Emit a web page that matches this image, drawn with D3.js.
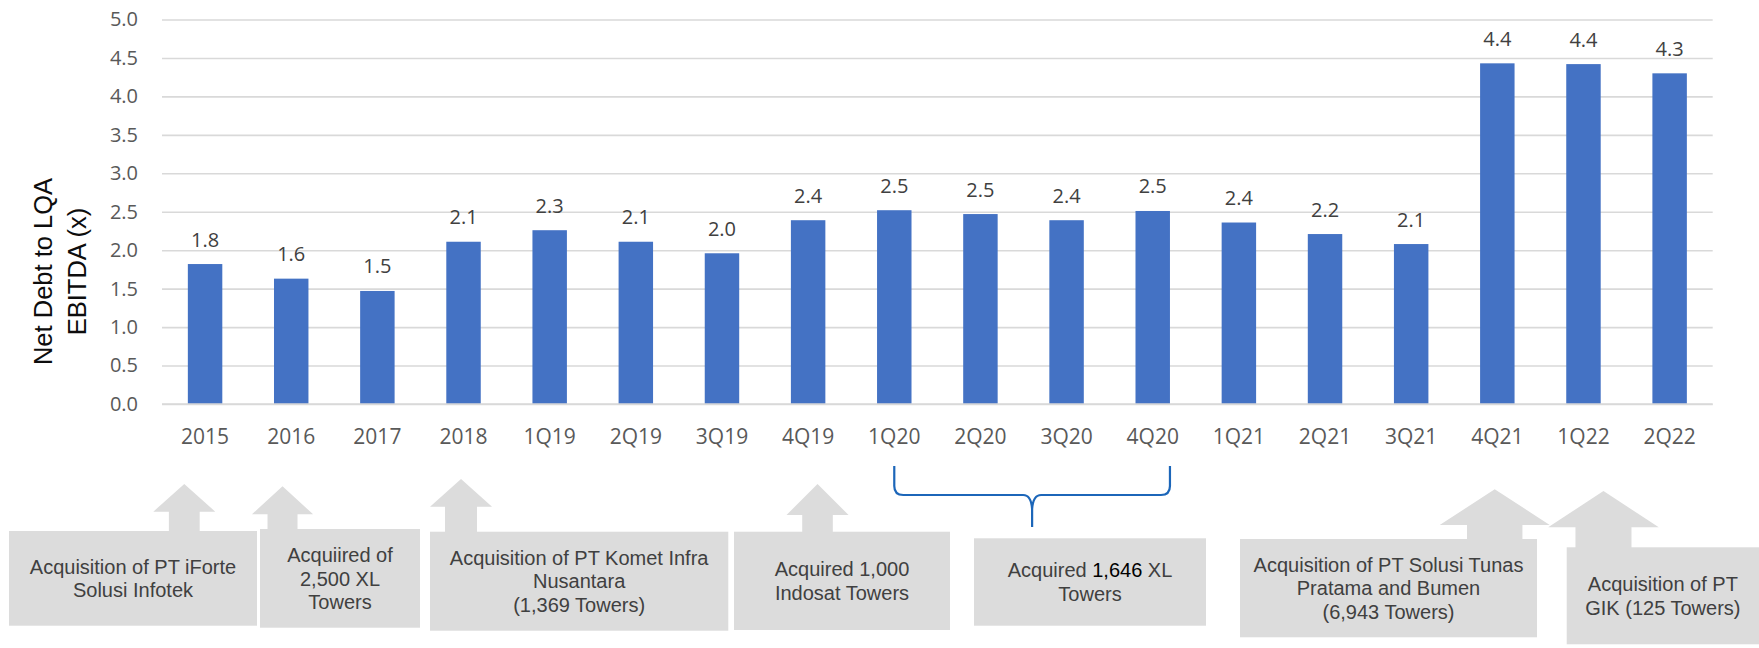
<!DOCTYPE html>
<html>
<head>
<meta charset="utf-8">
<script src="https://cdn.jsdelivr.net/npm/d3@7"></script>
<style>
  html, body { margin: 0; padding: 0; background: #ffffff; }
  svg { display: block; }
</style>
</head>
<body>
<svg id="chart" width="1759" height="648"></svg>
<script>
// Periods on the x axis
const categories = ["2015", "2016", "2017", "2018", "1Q19", "2Q19", "3Q19", "4Q19",
  "1Q20", "2Q20", "3Q20", "4Q20", "1Q21", "2Q21", "3Q21", "4Q21", "1Q22", "2Q22"];

// Net debt to LQA EBITDA (x)
const leverage = [1.82, 1.63, 1.47, 2.11, 2.26, 2.11, 1.96, 2.39,
  2.52, 2.47, 2.39, 2.51, 2.36, 2.21, 2.08, 4.43, 4.42, 4.30];

// Value axis ticks
const yTicks = [0, 0.5, 1, 1.5, 2, 2.5, 3, 3.5, 4, 4.5, 5];

// Acquisition call-outs: text lines, the period each arrow points at
const calloutLines = [
  ["Acquisition of PT iForte", "Solusi Infotek"],
  ["Acquiired of", "2,500 XL", "Towers"],
  ["Acquisition of PT Komet Infra", "Nusantara", "(1,369 Towers)"],
  ["Acquired 1,000", "Indosat Towers"],
  [["Acquired ", ["1,646", true], " XL"], "Towers"],
  ["Acquisition of PT Solusi Tunas", "Pratama and Bumen", "(6,943 Towers)"],
  ["Acquisition of PT", "GIK (125 Towers)"]
];
const calloutPeriods = ["2015", "2016", "2018", "4Q19", null, "4Q21", "1Q22"];
const bracketPeriods = ["1Q20", "4Q20"];

// ---- layout ----
const svg = d3.select("#chart");
const plot = { left: 162, right: 1712.7, top: 19.5, bottom: 404 };

const x = d3.scaleBand()
  .domain(categories)
  .range([plot.left, plot.right])
  .paddingInner(0.6)
  .paddingOuter(0.3);

const y = d3.scaleLinear()
  .domain([0, 5])
  .range([plot.bottom, plot.top]);

const tickFont = "'Open Sans', 'Noto Sans', sans-serif";
const boxFont = "'Liberation Sans', Arial, sans-serif";
const fmt = d3.format(".1f");

// gridlines
const grid = svg.append("g")
  .attr("transform", `translate(${plot.left},0)`)
  .call(d3.axisLeft(y).tickValues(yTicks).tickSize(-(plot.right - plot.left)).tickFormat(""));
grid.select(".domain").remove();
grid.selectAll(".tick line").attr("stroke", "#d9d9d9").attr("stroke-width", 1.6);

// y tick labels
const yAxis = svg.append("g")
  .attr("transform", `translate(${plot.left},0)`)
  .call(d3.axisLeft(y).tickValues(yTicks).tickSize(0).tickPadding(24).tickFormat(fmt));
yAxis.select(".domain").remove();
yAxis.selectAll(".tick text")
  .attr("font-family", tickFont)
  .attr("font-size", 20)
  .attr("fill", "#595959");

// bars
svg.append("g")
  .selectAll("rect")
  .data(categories)
  .join("rect")
  .attr("x", (d) => x(d))
  .attr("width", x.bandwidth())
  .attr("y", (d, i) => y(leverage[i]))
  .attr("height", (d, i) => y(0) - y(leverage[i]))
  .attr("fill", "#4472c4");

// value labels
svg.append("g")
  .selectAll("text")
  .data(categories)
  .join("text")
  .attr("x", (d) => x(d) + x.bandwidth() / 2)
  .attr("y", (d, i) => y(leverage[i]) - 17.5)
  .attr("text-anchor", "middle")
  .attr("font-family", tickFont)
  .attr("font-size", 20)
  .attr("fill", "#404040")
  .text((d, i) => fmt(leverage[i]));

// x axis
const xAxis = svg.append("g")
  .attr("transform", `translate(0,${plot.bottom})`)
  .call(d3.axisBottom(x).tickSize(0).tickPadding(0));
xAxis.select(".domain").attr("stroke", "#d9d9d9").attr("stroke-width", 1.6)
  .attr("d", `M${plot.left},0H${plot.right}`);
xAxis.selectAll(".tick text")
  .attr("y", 39.5)
  .attr("dy", 0)
  .attr("font-family", tickFont)
  .attr("font-size", 21)
  .attr("fill", "#595959");

// y axis title
const yTitle = svg.append("text")
  .attr("transform", "translate(60,271.5) rotate(-90)")
  .attr("text-anchor", "middle")
  .attr("font-family", boxFont)
  .attr("font-size", 25.5)
  .attr("fill", "#0d0d0d");
yTitle.append("tspan").attr("x", 0).attr("y", -8).text("Net Debt to LQA");
yTitle.append("tspan").attr("x", 0).attr("y", 26).text("EBITDA (x)");

// ---- call-outs below the axis ----
const boxFill = "#dcdcdc";
const boxes = [
  { x0: 9, x1: 257, y0: 531, y1: 625.7 },
  { x0: 260, x1: 420, y0: 529, y1: 627.7 },
  { x0: 430, x1: 728.3, y0: 531.7, y1: 630.7 },
  { x0: 734, x1: 950, y0: 531.7, y1: 630 },
  { x0: 974, x1: 1206, y0: 538.3, y1: 625.7 },
  { x0: 1240, x1: 1537, y0: 539, y1: 637.3 },
  { x0: 1566.7, x1: 1759, y0: 547.3, y1: 644.3 }
];
// arrow geometry: offset of tip from period centre, tip y, head base y, half widths
const arrows = [
  { dx: -20.8, tip: 484, base: 511.7, head: 31, shaft: 15.4 },
  { dx: -8.7, tip: 486.3, base: 514.3, head: 30.6, shaft: 15 },
  { dx: -2.5, tip: 479, base: 506.7, head: 31, shaft: 16 },
  { dx: 9.4, tip: 484, base: 515, head: 31, shaft: 15.3 },
  null,
  { dx: -2.6, tip: 489.3, base: 525, head: 55, shaft: 27.7 },
  { dx: 20, tip: 491, base: 527.3, head: 55.3, shaft: 28 }
];

const callouts = svg.append("g");
calloutPeriods.forEach((p, i) => {
  const a = arrows[i];
  if (!p || !a) return;
  const cx = x(p) + x.bandwidth() / 2 + a.dx;
  const b = boxes[i];
  callouts.append("path")
    .attr("d", `M${cx},${a.tip}L${cx + a.head},${a.base}L${cx + a.shaft},${a.base}` +
      `L${cx + a.shaft},${b.y0 + 1}L${cx - a.shaft},${b.y0 + 1}L${cx - a.shaft},${a.base}` +
      `L${cx - a.head},${a.base}Z`)
    .attr("fill", boxFill);
});

const lineH = 23.5;
const capH = 0.716 * 20;
boxes.forEach((b, i) => {
  callouts.append("rect")
    .attr("x", b.x0).attr("y", b.y0)
    .attr("width", b.x1 - b.x0).attr("height", b.y1 - b.y0)
    .attr("fill", boxFill);
  const lines = calloutLines[i];
  const cx = (b.x0 + b.x1) / 2;
  const cy = (b.y0 + b.y1) / 2;
  const first = cy - ((lines.length - 1) * lineH) / 2 + capH / 2;
  const t = callouts.append("text")
    .attr("text-anchor", "middle")
    .attr("font-family", boxFont)
    .attr("font-size", 20)
    .attr("fill", "#404040");
  lines.forEach((ln, j) => {
    const ts = t.append("tspan").attr("x", cx).attr("y", first + j * lineH);
    if (Array.isArray(ln)) {
      ln.forEach((part) => {
        if (Array.isArray(part)) ts.append("tspan").attr("fill", "#000000").text(part[0]);
        else ts.append("tspan").text(part);
      });
    } else {
      ts.text(ln);
    }
  });
});

// brace spanning the 2020 quarters
const bl = x(bracketPeriods[0]) + x.bandwidth() / 2;
const br = x(bracketPeriods[1]) + x.bandwidth();
const bm = (bl + br) / 2;
const bTop = 466, bMid = 495, bTip = 527;
svg.append("path")
  .attr("d",
    `M${bl},${bTop}L${bl},${bMid - 9}Q${bl},${bMid} ${bl + 9},${bMid}L${bm - 9},${bMid}` +
    `Q${bm - 1},${bMid} ${bm},${bMid + 14}L${bm},${bTip}` +
    `M${br},${bTop}L${br},${bMid - 9}Q${br},${bMid} ${br - 9},${bMid}L${bm + 9},${bMid}` +
    `Q${bm + 1},${bMid} ${bm},${bMid + 14}`)
  .attr("fill", "none")
  .attr("stroke", "#1c66b9")
  .attr("stroke-width", 2.2);
</script>
</body>
</html>
